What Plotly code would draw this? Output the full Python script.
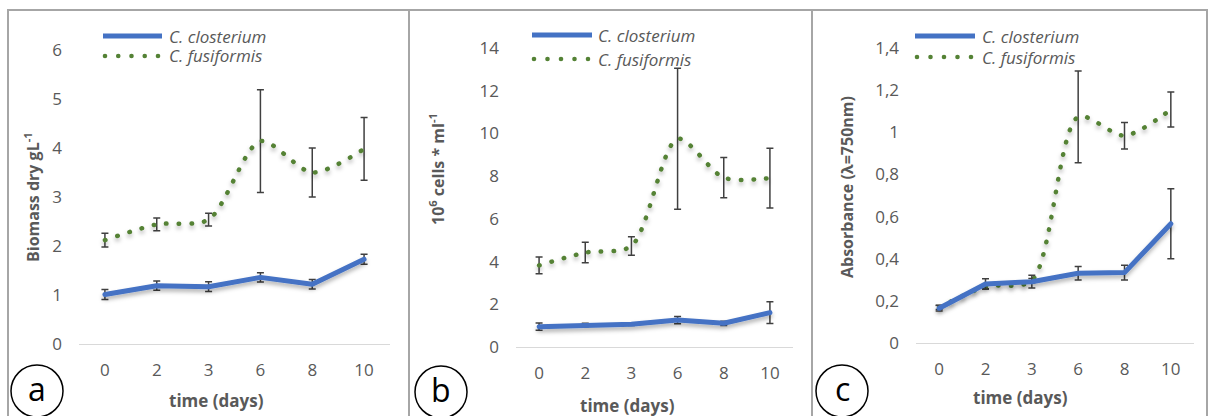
import plotly.graph_objects as go

W, H = 1209, 416

# ---------------- data ----------------
days = ["0", "2", "3", "6", "8", "10"]

a_clos = [1.01, 1.19, 1.17, 1.36, 1.22, 1.73]
a_clos_err = [0.10, 0.095, 0.10, 0.095, 0.095, 0.10]
a_fus = [2.12, 2.44, 2.54, 4.14, 3.50, 3.98]
a_fus_err = [0.14, 0.13, 0.13, 1.05, 0.50, 0.64]

b_clos = [0.95, 1.03, 1.06, 1.26, 1.11, 1.61]
b_clos_err = [0.17, 0.08, 0.05, 0.17, 0.10, 0.51]
b_fus = [3.82, 4.42, 4.73, 9.75, 7.93, 7.91]
b_fus_err = [0.39, 0.48, 0.43, 3.30, 0.94, 1.40]

c_clos = [0.165, 0.28, 0.291, 0.331, 0.334, 0.566]
c_clos_err = [0.013, 0.025, 0.03, 0.032, 0.035, 0.166]
c_fus = [0.169, 0.267, 0.296, 1.073, 0.984, 1.108]
c_fus_err = [0.01, 0.01, 0.01, 0.218, 0.063, 0.083]

names = ["C. closterium", "C. fusiformis"]
panel_letters = ["a", "b", "c"]
y_titles = ["Biomass dry gL<sup>-1</sup>", "10<sup>6</sup> cells * ml<sup>-1</sup>",
            "Absorbance (λ=750nm)"]
x_title = "time (days)"
y_ranges = [[0, 6], [0, 14], [0, 1.4]]
y_dticks = [1, 2, 0.2]

# ---------------- style / layout ----------------
BLUE = "#4472C4"
GREEN = "#548235"
GREY = "#595959"
ERR = "#404040"
FONT = "Open Sans"

def px(x):
    return x / W

def py(y):
    return 1 - y / H

# plot-area pixel boxes: (x_left, x_right, y_zero, y_top)
boxes = [(79, 390, 344, 50), (516, 793, 347, 48), (916, 1194, 343, 48)]
frames = [(8, 409), (409, 812), (812, 1207)]
ytitle_pos = [(32, 197), (437, 169), (847, 187)]
xtitle_pos = [(216, 400), (627, 405), (1020, 397)]
legend_pos = [(103, 162, 36, 56, 167), (532, 592, 35, 59, 596), (915, 975, 36, 57, 980)]
circle_pos = [(37, 391), (441, 392), (842, 391)]

series = [
    (a_clos, a_clos_err, a_fus, a_fus_err),
    (b_clos, b_clos_err, b_fus, b_fus_err),
    (c_clos, c_clos_err, c_fus, c_fus_err),
]

fig = go.Figure()
shapes = []
annotations = []

for i, (clos, clos_e, fus, fus_e) in enumerate(series):
    n = "" if i == 0 else str(i + 1)
    xa, ya = "x" + n, "y" + n
    # C. fusiformis (dotted, smoothed)
    fig.add_trace(go.Scatter(
        x=days, y=fus, xaxis=xa, yaxis=ya, mode="lines", name=names[1],
        line=dict(color=GREEN, width=4.5, dash="0.5px,12.2px", shape="spline", smoothing=0.8),
        error_y=dict(type="data", array=fus_e, visible=True, color=ERR, thickness=1.5, width=3.5),
        showlegend=False, hoverinfo="skip"))
    # C. closterium (solid)
    fig.add_trace(go.Scatter(
        x=days, y=clos, xaxis=xa, yaxis=ya, mode="lines", name=names[0],
        line=dict(color=BLUE, width=5),
        error_y=dict(type="data", array=clos_e, visible=True, color=ERR, thickness=1.5, width=3.5),
        showlegend=False, hoverinfo="skip"))

    xl, xr, y0, yt = boxes[i]
    xkey = "xaxis" + n
    ykey = "yaxis" + n
    fig.layout[xkey] = dict(
        domain=[px(xl), px(xr)], anchor=ya, type="category",
        categoryorder="array", categoryarray=days, range=[-0.5, len(days) - 0.5],
        automargin=False,
        showline=True, linecolor="#D9D9D9", linewidth=1.3, showgrid=False, zeroline=False,
        ticks="", tickfont=dict(family=FONT, size=17, color=GREY), ticklabelstandoff=10)
    fig.layout[ykey] = dict(
        domain=[py(y0), py(yt)], anchor=xa, range=y_ranges[i], dtick=y_dticks[i], tick0=0,
        automargin=False,
        showline=False, showgrid=False, zeroline=False, ticks="",
        tickfont=dict(family=FONT, size=17, color=GREY), ticklabelstandoff=16)

    # panel frame
    fl, fr = frames[i]
    shapes.append(dict(type="rect", xref="paper", yref="paper", x0=px(fl), x1=px(fr),
                       y0=py(440), y1=py(10), line=dict(color="#A6A6A6", width=2), layer="below"))
    # axis titles
    tx, ty = ytitle_pos[i]
    annotations.append(dict(text="<b>" + y_titles[i] + "</b>", x=px(tx), y=py(ty), xref="paper",
                            yref="paper", textangle=-90, showarrow=False, xanchor="center",
                            yanchor="middle", font=dict(family=FONT, size=16, color=GREY)))
    tx, ty = xtitle_pos[i]
    annotations.append(dict(text="<b>" + x_title + "</b>", x=px(tx), y=py(ty), xref="paper",
                            yref="paper", showarrow=False, xanchor="center", yanchor="middle",
                            font=dict(family=FONT, size=17, color=GREY)))
    # legend
    lx0, lx1, ly1, ly2, ltx = legend_pos[i]
    shapes.append(dict(type="line", xref="paper", yref="paper", x0=px(lx0), x1=px(lx1),
                       y0=py(ly1), y1=py(ly1), line=dict(color=BLUE, width=5)))
    ndots = 5
    for k in range(ndots):
        cx = lx0 + 2 + k * (lx1 - lx0 - 6) / (ndots - 1)
        r = 2.3
        shapes.append(dict(type="circle", xref="paper", yref="paper",
                           x0=px(cx - r), x1=px(cx + r), y0=py(ly2 + r), y1=py(ly2 - r),
                           fillcolor=GREEN, line=dict(width=0)))
    for txt, ly in ((names[0], ly1), (names[1], ly2)):
        annotations.append(dict(text="<i>" + txt + "</i>", x=px(ltx), y=py(ly), xref="paper",
                                yref="paper", showarrow=False, xanchor="left", yanchor="middle",
                                font=dict(family=FONT, size=17, color=GREY)))
    # circled panel letter
    cx, cy = circle_pos[i]
    rr = 26
    shapes.append(dict(type="circle", xref="paper", yref="paper", x0=px(cx - rr), x1=px(cx + rr),
                       y0=py(cy + rr), y1=py(cy - rr), line=dict(color="black", width=1.5)))
    annotations.append(dict(text=panel_letters[i], x=px(cx), y=py(cy - 3), xref="paper",
                            yref="paper", showarrow=False, xanchor="center", yanchor="middle",
                            font=dict(family=FONT, size=32, color="black")))

fig.update_layout(
    width=W, height=H, margin=dict(l=0, r=0, t=0, b=0, autoexpand=False),
    paper_bgcolor="white", plot_bgcolor="rgba(0,0,0,0)",
    separators=", ", showlegend=False,
    shapes=shapes, annotations=annotations,
)

post = """
(function(){
  var gd = document.getElementById('{plot_id}');
  function fix(){
    var svg = gd.querySelector('svg.main-svg');
    if (svg && !document.getElementById('lshadow')) {
      var ns = 'http://www.w3.org/2000/svg';
      var defs = document.createElementNS(ns, 'defs');
      var f = document.createElementNS(ns, 'filter');
      f.setAttribute('id', 'lshadow');
      f.setAttribute('filterUnits', 'userSpaceOnUse');
      f.setAttribute('x', '-2000'); f.setAttribute('y', '-2000');
      f.setAttribute('width', '6000'); f.setAttribute('height', '6000');
      var d = document.createElementNS(ns, 'feDropShadow');
      d.setAttribute('dx', '0'); d.setAttribute('dy', '3');
      d.setAttribute('stdDeviation', '2');
      d.setAttribute('flood-color', '#000'); d.setAttribute('flood-opacity', '0.3');
      f.appendChild(d); defs.appendChild(f); svg.insertBefore(defs, svg.firstChild);
    }
    gd.querySelectorAll('path.js-line').forEach(function(p){
      p.style.strokeLinecap = 'round';
      p.style.strokeLinejoin = 'round';
      p.setAttribute('filter', 'url(#lshadow)');
    });
  }
  fix();
  setTimeout(fix, 50);
  if (gd.on) gd.on('plotly_afterplot', fix);
})();
"""

fig.write_html("out.html", post_script=post)
